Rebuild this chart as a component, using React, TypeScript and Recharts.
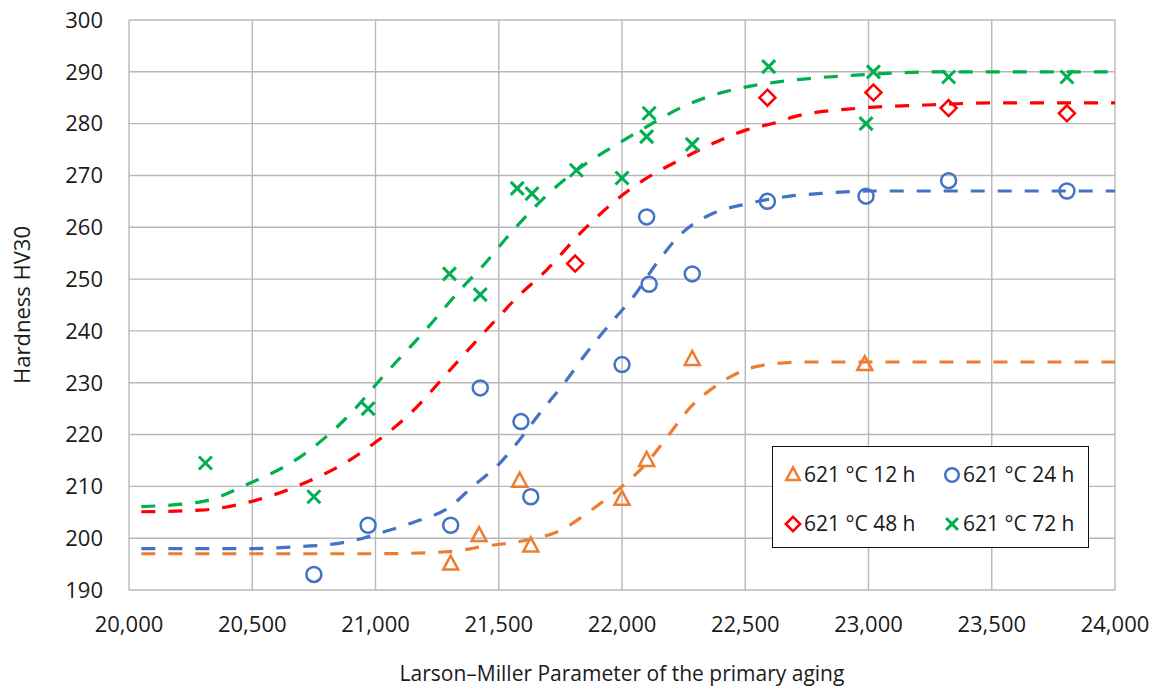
import React from 'react'
import { ComposedChart, Line, Scatter, XAxis, YAxis, CartesianGrid } from 'recharts'

const FONT = '"Open Sans", sans-serif'

const ORANGE = '#ED7D31'
const BLUE = '#4472C4'
const RED = '#FF0000'
const GREEN = '#00B050'

const xTicks = [20000, 20500, 21000, 21500, 22000, 22500, 23000, 23500, 24000]
const yTicks = [190, 200, 210, 220, 230, 240, 250, 260, 270, 280, 290, 300]

// measured points (LMP, HV30)
const lmp12 = [21305, 21420, 21585, 21630, 22000, 22100, 22285, 22985]
const hv12 = [195, 200.5, 211, 198.5, 207.5, 215, 234.5, 233.5]

const lmp24 = [20750, 20970, 21305, 21425, 21590, 21630, 22000, 22100, 22110, 22285, 22590, 22990, 23325, 23805]
const hv24 = [193, 202.5, 202.5, 229, 222.5, 208, 233.5, 262, 249, 251, 265, 266, 269, 267]

const lmp48 = [21810, 22590, 23020, 23325, 23805]
const hv48 = [253, 285, 286, 283, 282]

const lmp72 = [20310, 20750, 20970, 21300, 21425, 21575, 21635, 21815, 22000, 22100, 22110, 22285, 22595, 22990, 23020, 23325, 23805]
const hv72 = [214.5, 208, 225, 251, 247, 267.5, 266.5, 271, 269.5, 277.5, 282, 276, 291, 280, 290, 289, 289]

// fitted curves
const fitX12 = [20050, 20500, 21000, 21300, 21450, 21600, 21750, 21875, 22000, 22100, 22175, 22280, 22375, 22500, 22625, 22750, 23000, 23500, 24000]
const fitY12 = [197, 197, 197, 197.4, 198.5, 199.5, 201.5, 205.4, 210, 214.5, 219, 225.4, 229.2, 232.5, 233.7, 234, 234, 234, 234]

const fitX24 = [20050, 20500, 20700, 20850, 20950, 21020, 21150, 21300, 21395, 21505, 21585, 21655, 21775, 21855, 21965, 22045, 22140, 22235, 22370, 22505, 22680, 22830, 23000, 23500, 24000]
const fitY24 = [198, 198, 198.4, 199, 200, 201, 203, 206, 210, 214.5, 219, 223.4, 230.5, 235.7, 242.1, 246.5, 253, 258.5, 262.7, 264.5, 266, 266.6, 267, 267, 267]

const fitX48 = [20050, 20290, 20490, 20695, 20900, 21000, 21155, 21290, 21425, 21515, 21560, 21695, 21830, 21965, 22100, 22235, 22370, 22505, 22640, 22695, 22965, 23235, 23500, 24000]
const fitY48 = [205.1, 205.4, 207, 210.3, 215.2, 218.5, 224.7, 231.8, 238.9, 243.5, 245.8, 251.8, 258.8, 264.8, 269.5, 273, 276.2, 278.8, 280.4, 281.3, 283, 283.6, 284, 284]

const fitX72 = [20050, 20290, 20490, 20695, 20900, 21030, 21200, 21355, 21425, 21560, 21695, 21830, 21965, 22100, 22235, 22370, 22505, 22640, 22965, 23300, 24000]
const fitY72 = [206.1, 207, 210.6, 215.7, 224.1, 231.2, 240, 248.5, 252, 259.5, 266.2, 271.5, 275.6, 279.4, 283, 285.5, 287.1, 288.1, 289.4, 290, 290]

const toPts = (xs: number[], ys: number[]) => xs.map((x, i) => ({ x, y: ys[i] }))

type MarkerKind = 'triangle' | 'circle' | 'diamond' | 'cross'

function Marker({ kind, cx, cy, color, s = 1 }: { kind: MarkerKind; cx: number; cy: number; color: string; s?: number }) {
  const sw = 2.5
  if (kind === 'triangle') {
    const pts = `${cx},${cy - 8.5 * s} ${cx - 7.5 * s},${cy + 5.5 * s} ${cx + 7.5 * s},${cy + 5.5 * s}`
    return <polygon points={pts} fill="none" stroke={color} strokeWidth={sw} />
  }
  if (kind === 'circle') {
    return <circle cx={cx} cy={cy} r={7.5 * s} fill="none" stroke={color} strokeWidth={sw} />
  }
  if (kind === 'diamond') {
    const d = 8 * s
    const pts = `${cx},${cy - d} ${cx + d},${cy} ${cx},${cy + d} ${cx - d},${cy}`
    return <polygon points={pts} fill="none" stroke={color} strokeWidth={sw} />
  }
  const d = 6.5 * s
  return (
    <g stroke={color} strokeWidth={sw + 0.5}>
      <line x1={cx - d} y1={cy - d} x2={cx + d} y2={cy + d} />
      <line x1={cx - d} y1={cy + d} x2={cx + d} y2={cy - d} />
    </g>
  )
}

const series = [
  { name: '621 °C 12 h', color: ORANGE, kind: 'triangle' as MarkerKind, pts: toPts(lmp12, hv12), fit: toPts(fitX12, fitY12) },
  { name: '621 °C 24 h', color: BLUE, kind: 'circle' as MarkerKind, pts: toPts(lmp24, hv24), fit: toPts(fitX24, fitY24) },
  { name: '621 °C 48 h', color: RED, kind: 'diamond' as MarkerKind, pts: toPts(lmp48, hv48), fit: toPts(fitX48, fitY48) },
  { name: '621 °C 72 h', color: GREEN, kind: 'cross' as MarkerKind, pts: toPts(lmp72, hv72), fit: toPts(fitX72, fitY72) },
]

function LegendBox() {
  return (
    <div
      style={{
        position: 'absolute',
        left: 772,
        top: 446,
        width: 317,
        height: 102,
        border: '1.5px solid #111',
        background: 'white',
        boxSizing: 'border-box',
        fontFamily: FONT,
        fontSize: 21,
        color: '#1a1a1a',
        display: 'grid',
        gridTemplateColumns: '159px 150px',
        gridTemplateRows: '49px 49px',
        paddingLeft: 11,
        paddingTop: 2,
      }}
    >
      {series.map((s) => (
        <div key={s.name} style={{ display: 'flex', alignItems: 'center', whiteSpace: 'nowrap' }}>
          <svg width={18} height={20} style={{ marginRight: 2 }}>
            <Marker kind={s.kind} cx={9} cy={11} color={s.color} s={0.9} />
          </svg>
          <span>{s.name}</span>
        </div>
      ))}
    </div>
  )
}

export default function App() {
  return (
    <div style={{ position: 'absolute', left: 0, top: 0, width: 1158, height: 686, background: 'white' }}>
      <ComposedChart width={1158} height={686} margin={{ top: 20, right: 43, bottom: 0, left: 0 }}>
        <CartesianGrid stroke="#b8b8b8" strokeWidth={1.4} />
        <XAxis
          type="number"
          dataKey="x"
          domain={[20000, 24000]}
          ticks={xTicks}
          allowDataOverflow
          height={96}
          axisLine={false}
          tickLine={false}
          tickSize={0}
          tickMargin={26}
          tickFormatter={(v: number) => v.toLocaleString('en-US')}
          tick={{ fontFamily: FONT, fontSize: 22, fill: '#1a1a1a' }}
          label={{ value: 'Larson–Miller Parameter of the primary aging', position: 'insideBottom', offset: 5, style: { fontFamily: FONT, fontSize: 21, fill: '#1a1a1a' } }}
        />
        <YAxis
          type="number"
          domain={[190, 300]}
          ticks={yTicks}
          allowDataOverflow
          width={129}
          axisLine={false}
          tickLine={false}
          tickSize={0}
          tickMargin={26}
          tick={{ fontFamily: FONT, fontSize: 22, fill: '#1a1a1a' }}
          label={{ value: 'Hardness HV30', angle: -90, position: 'insideLeft', offset: 22, style: { fontFamily: FONT, fontSize: 22, fill: '#1a1a1a', textAnchor: 'middle' } }}
        />
        {series.map((s) => (
          <Line
            key={'fit-' + s.name}
            data={s.fit}
            dataKey="y"
            type="monotone"
            stroke={s.color}
            strokeWidth={3.2}
            strokeDasharray="14 13"
            dot={false}
            activeDot={false}
            isAnimationActive={false}
          />
        ))}
        {series.map((s) => (
          <Scatter
            key={'pts-' + s.name}
            data={s.pts}
            dataKey="y"
            isAnimationActive={false}
            shape={(p: any) => <Marker kind={s.kind} cx={p.cx} cy={p.cy} color={s.color} />}
          />
        ))}
      </ComposedChart>
      <LegendBox />
    </div>
  )
}
